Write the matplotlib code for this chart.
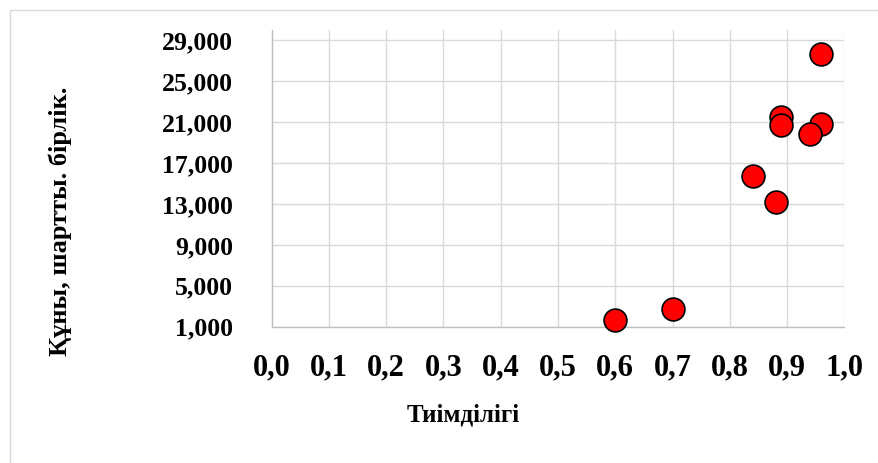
import matplotlib
matplotlib.use("Agg")
import matplotlib.pyplot as plt
from matplotlib.patches import Rectangle
from matplotlib.ticker import FixedLocator, FuncFormatter

plt.rcParams["font.family"] = ["Liberation Serif", "DejaVu Serif"]
plt.rcParams["font.weight"] = "bold"

# efficiency vs. cost, conventional units
efficiency = [0.60, 0.70, 0.84, 0.88, 0.89, 0.89, 0.96, 0.94, 0.96]
cost = [1700, 2700, 15700, 13200, 21500, 20700, 20850, 19800, 27700]

x_ticks = [0.0, 0.1, 0.2, 0.3, 0.4, 0.5, 0.6, 0.7, 0.8, 0.9, 1.0]
y_ticks = [1000, 5000, 9000, 13000, 17000, 21000, 25000, 29000]

x_title = "Тиімділігі"
y_title = "Құны, шартты. бірлік."

fig = plt.figure(figsize=(8.79, 4.63), dpi=100)
fig.patch.set_facecolor("white")

# light frame around the chart area
fig.patches.append(Rectangle((9.5 / 879, -0.05), 1.2, (463 - 9.5) / 463 + 0.05,
                             transform=fig.transFigure, fill=False,
                             edgecolor="#d9d9d9", linewidth=1.0))

ax = fig.add_axes([271.7 / 879, (463 - 326.7) / 463,
                   (844.3 - 271.7) / 879, (326.7 - 30) / 463])
ax.set_xlim(0.0, 1.0)
ax.set_ylim(1000, 30000)

ax.xaxis.set_major_locator(FixedLocator(x_ticks))
ax.yaxis.set_major_locator(FixedLocator(y_ticks))
ax.xaxis.set_major_formatter(FuncFormatter(lambda v, p: f"{v:.1f}".replace(".", ",")))
ax.yaxis.set_major_formatter(FuncFormatter(lambda v, p: f"{int(round(v)):,}"))

ax.grid(True, color="#d9d9d9", linewidth=1.0)
ax.set_axisbelow(True)
for side in ("top", "right"):
    ax.spines[side].set_visible(False)
for side in ("left", "bottom"):
    ax.spines[side].set_color("#bfbfbf")
    ax.spines[side].set_linewidth(1.0)

ax.tick_params(axis="both", length=0)
ax.tick_params(axis="x", pad=19.5, labelsize=22)
ax.tick_params(axis="y", pad=28, labelsize=18.5)
for lbl in ax.get_xticklabels() + ax.get_yticklabels():
    lbl.set_fontweight("bold")

ax.scatter(efficiency, cost, s=270, facecolor="#ff0000", edgecolor="black",
           linewidth=1.2, zorder=3, clip_on=False)

fig.text(463 / 879, (463 - 415) / 463, x_title, ha="center", va="center",
         fontsize=18, fontweight="bold")
fig.text(60 / 879, (463 - 221) / 463, y_title, ha="center", va="center",
         rotation=90, fontsize=19, fontweight="bold")

fig.savefig("out.png", dpi=100, facecolor="white")
